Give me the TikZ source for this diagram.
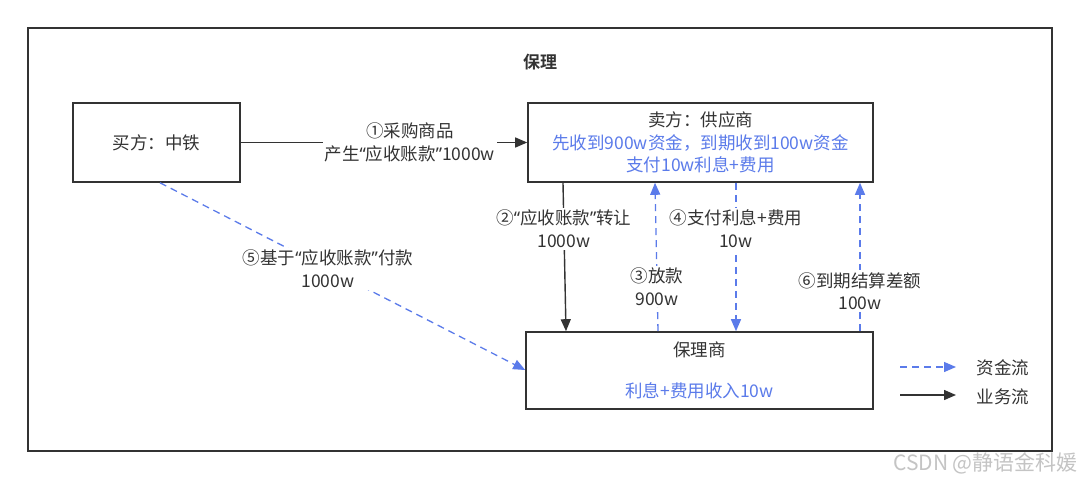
\documentclass[tikz,border=0pt]{standalone}
\usepackage{fontspec}
\setmainfont{Noto Sans CJK SC}
\newfontfamily\boldcjk{Noto Sans CJK SC}[BoldFont={* Bold}]
\newfontfamily\latq{Noto Sans}
\newcommand{\oq}{{\latq “}}
\newcommand{\cq}{{\latq ”}}
\usetikzlibrary{arrows.meta,calc}
\definecolor{ink}{HTML}{333333}
\definecolor{flow}{HTML}{5B7BEA}
\definecolor{wm}{HTML}{C4C4C4}
\tikzset{
  box/.style={draw=ink,line width=1.6pt,text=ink,align=center,inner sep=0pt},
  biz/.style={draw=ink,line width=1.4pt,-{Triangle[length=12pt,width=10pt]}},
  money/.style={draw=flow,line width=1.3pt,dash pattern=on 7pt off 5pt,-{Triangle[length=12pt,width=10pt]}},
  lbl/.style={fill=white,text=ink,align=center,inner sep=2pt,font=\fontsize{17.5}{22.5}\selectfont},
}
\begin{document}
\begin{tikzpicture}[x=1pt,y=-1pt,font=\fontsize{17.5}{22.5}\selectfont]
\useasboundingbox (0,0) rectangle (1080,479);
\fill[white] (0,0) rectangle (1080,479);
\node[draw=ink,line width=1.5pt,minimum width=1024pt,minimum height=423pt,inner sep=0pt] (frame) at (540,239.5) {};
\node[text=ink,font=\boldcjk\fontsize{17}{20}\selectfont\bfseries] (title) at (540,62) {保理};

\node[box,minimum width=167pt,minimum height=79pt] (buyer) at (156.5,142.5) {买方：中铁};
\node[box,minimum width=345pt,minimum height=79pt] (seller) at (700.5,142.5)
  {卖方：供应商\\ \textcolor{flow}{先收到900w资金，到期收到100w资金}\\ \textcolor{flow}{支付10w利息+费用}};
\node[box,minimum width=347pt,minimum height=77pt] (factor) at (699.5,370.5)
  {保理商\\[19pt] \textcolor{flow}{利息+费用收入10w}};

% 1
\draw[biz] (buyer.east) -- (seller.west)
  node[lbl,pos=0.59] (l1) {①采购商品\\产生\oq 应收账款\cq 1000w};
% 2
\draw[biz] (seller.south -| 563,0) -- (factor.north -| 566,0)
  node[lbl,pos=0.31] (l2) {②\oq 应收账款\cq 转让\\1000w};
% 3
\draw[money] (factor.north -| 658,0) -- (seller.south -| 655,0)
  node[lbl,pos=0.30] (l3) {③放款\\900w};
% 4
\draw[money] (seller.south -| 736,0) -- (factor.north -| 736,0)
  node[lbl,pos=0.31] (l4) {④支付利息+费用\\10w};
% 6
\draw[money] (factor.north -| 860,0) -- (seller.south -| 860,0)
  node[lbl,pos=0.27] (l6) {⑥到期结算差额\\100w};
% 5
\draw[money] (buyer.south -| 160,0) -- (factor.west |- 0,370)
  node[lbl,pos=0.46] (l5) {⑤基于\oq 应收账款\cq 付款\\1000w};

% legend
\coordinate (m1) at (900,367);
\coordinate (m2) at (956,367);
\coordinate (b1) at (900,395);
\coordinate (b2) at (956,395);
\draw[money] (m1) -- (m2);
\draw[biz] (b1) -- (b2);
\node[text=ink] (lm) at (1003,368) {资金流};
\node[text=ink] (lb) at (1003,397) {业务流};

\node[text=wm,anchor=west,inner sep=0pt,font=\fontsize{21}{24}\selectfont] (wmk) at (893,463) {CSDN @静语金科媛};
\end{tikzpicture}
\end{document}
